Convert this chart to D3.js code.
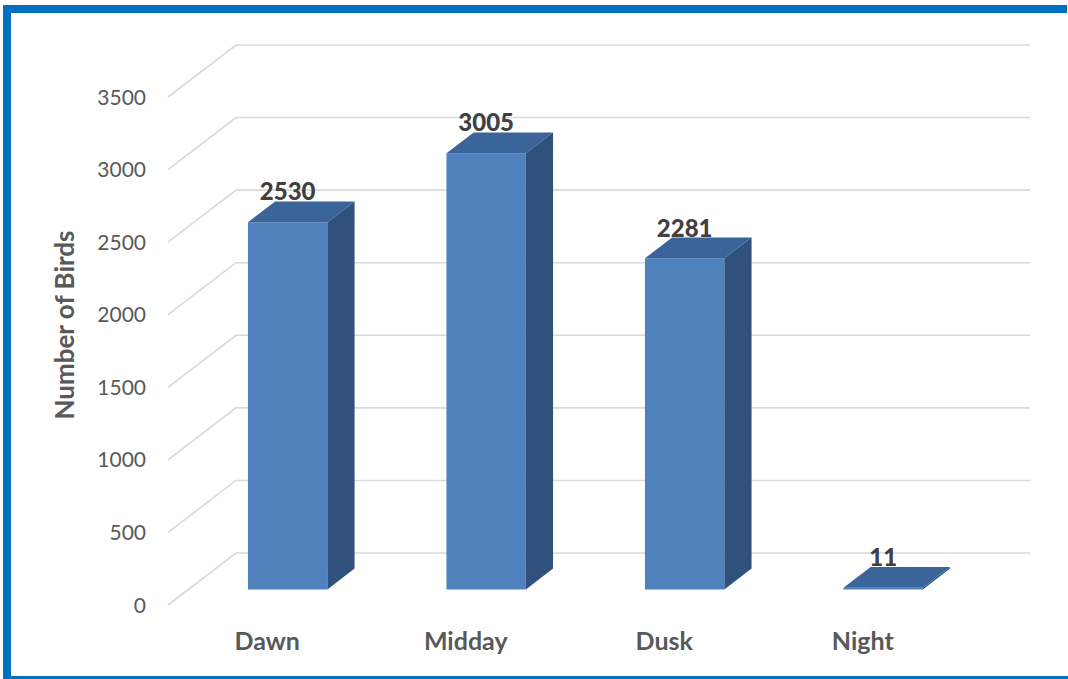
<!DOCTYPE html>
<html>
<head>
<meta charset="utf-8">
<script src="https://cdn.jsdelivr.net/npm/d3@7"></script>
<style>
  html, body { margin: 0; padding: 0; background: #fff; }
  svg { display: block; }
</style>
</head>
<body>
<svg id="chart" width="1068" height="679"></svg>
<script>
// Bird counts by time of day
const categories = ["Dawn", "Midday", "Dusk", "Night"];
const birdCounts = [2530, 3005, 2281, 11];
const tickValues = [0, 500, 1000, 1500, 2000, 2500, 3000, 3500];
const axisTitle = "Number of Birds";

const svg = d3.select("#chart");
const FONT = "Lato, 'Open Sans', sans-serif";

// Frame
svg.append("rect").attr("x", 3).attr("y", 5).attr("width", 8).attr("height", 674).attr("fill", "#0070C0");
svg.append("rect").attr("x", 3).attr("y", 5).attr("width", 1064).attr("height", 8).attr("fill", "#0070C0");
svg.append("rect").attr("x", 3).attr("y", 676).attr("width", 1065).attr("height", 3).attr("fill", "#0070C0");

// Oblique 3D projection: depth d in [0,1] shifts right and up
const depthDX = 68, depthDY = -52;
const x = d3.scaleBand().domain(categories).range([168, 962]).paddingInner(0).paddingOuter(0);
const y = d3.scaleLinear().domain([0, 3500]).range([605, 97]);
const proj = (px, v, d) => [px + d * depthDX, y(v) + d * depthDY];

// Wall gridlines: diagonal along the side wall, then horizontal along the back wall
const grid = svg.append("g").attr("fill", "none").attr("stroke", "#D9D9D9").attr("stroke-width", 1.6);
tickValues.forEach(t => {
  const a = proj(168, t, 0), b = proj(168, t, 1), c = proj(962, t, 1);
  grid.append("path").attr("d", d3.line()([a, b, c]));
});

// Tick labels
svg.append("g").selectAll("text").data(tickValues).join("text")
  .attr("x", 146).attr("y", d => y(d)).attr("dy", "0.36em")
  .attr("text-anchor", "end")
  .attr("font-family", FONT).attr("font-size", 21)
  .attr("fill", "#595959").text(d => d);

// Axis title
svg.append("text")
  .attr("transform", "translate(65,325) rotate(-90)")
  .attr("text-anchor", "middle").attr("dy", "0.36em")
  .attr("font-family", FONT).attr("font-weight", "bold").attr("font-size", 26)
  .attr("fill", "#595959").text(axisTitle);

// Bars as boxes
const barFrac = 0.4, d0 = 0.3, d1 = 0.7;
const bars = svg.append("g");
const poly = pts => d3.line()(pts) + "Z";
categories.forEach((c, i) => {
  const v = birdCounts[i];
  const bw = x.bandwidth() * barFrac;
  const xl = x(c) + (x.bandwidth() - bw) / 2;
  const xr = xl + bw;
  const g = bars.append("g");
  const fbl = proj(xl, 0, d0), fbr = proj(xr, 0, d0), ftr = proj(xr, v, d0), ftl = proj(xl, v, d0);
  const bbr = proj(xr, 0, d1), btr = proj(xr, v, d1), btl = proj(xl, v, d1);
  g.append("path").attr("d", poly([fbl, fbr, ftr, ftl])).attr("fill", "#4F81BD");
  g.append("path").attr("d", poly([fbr, bbr, btr, ftr])).attr("fill", "#30517B");
  g.append("path").attr("d", poly([ftl, ftr, btr, btl])).attr("fill", "#3A649A");
  // value label
  g.append("text")
    .attr("x", (xl + xr) / 2 + d0 * depthDX).attr("y", btl[1] - 1)
    .attr("text-anchor", "middle")
    .attr("font-family", FONT).attr("font-weight", "900").attr("font-size", 24)
    .attr("fill", "#404040").text(v);
});

// Category labels
svg.append("g").selectAll("text").data(categories).join("text")
  .attr("x", d => x(d) + x.bandwidth() / 2).attr("y", 650)
  .attr("text-anchor", "middle")
  .attr("font-family", FONT).attr("font-weight", "bold").attr("font-size", 25)
  .attr("fill", "#595959").text(d => d);
</script>
</body>
</html>
